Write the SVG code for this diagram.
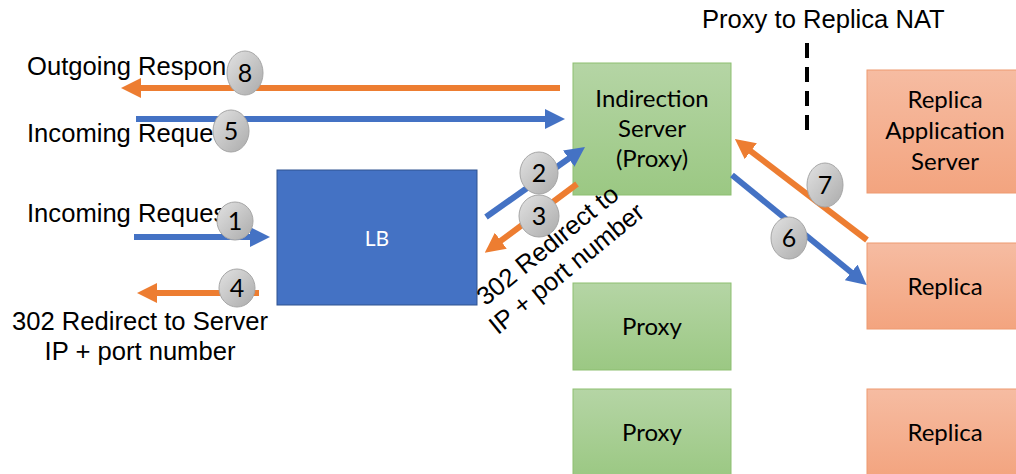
<svg xmlns="http://www.w3.org/2000/svg" width="1016" height="474" viewBox="0 0 1016 474">
  <defs>
    <linearGradient id="gGreen" x1="0" y1="0" x2="0" y2="1">
      <stop offset="0" stop-color="#B5D5A5"/>
      <stop offset="1" stop-color="#9BC883"/>
    </linearGradient>
    <linearGradient id="gOrange" x1="0" y1="0" x2="0" y2="1">
      <stop offset="0" stop-color="#F6BCA2"/>
      <stop offset="1" stop-color="#F3A47F"/>
    </linearGradient>
    <linearGradient id="gStep" x1="0" y1="0" x2="1" y2="1">
      <stop offset="0" stop-color="#E2E2E2"/>
      <stop offset="1" stop-color="#ABABAB"/>
    </linearGradient>
    <marker id="headBlue" viewBox="0 0 10 10" refX="0.5" refY="5" markerWidth="20" markerHeight="20" markerUnits="userSpaceOnUse" orient="auto">
      <path d="M0,0 L10,5 L0,10 z" fill="#4472C4"/>
    </marker>
    <marker id="headOrange" viewBox="0 0 10 10" refX="0.5" refY="5" markerWidth="20" markerHeight="20" markerUnits="userSpaceOnUse" orient="auto">
      <path d="M0,0 L10,5 L0,10 z" fill="#ED7D31"/>
    </marker>
  </defs>
  <style>
    .lbl { font-family: "Liberation Sans", Arial, sans-serif; font-size: 25.6px; fill: #000; }
    .box { font-family: Lato, "Liberation Sans", sans-serif; font-size: 24px; fill: #000; text-anchor: middle; }
    .green { fill: url(#gGreen); stroke: #8DBF70; stroke-width: 1; }
    .orange { fill: url(#gOrange); stroke: #EE9A70; stroke-width: 1; }
    .blue { stroke: #4472C4; stroke-width: 6; fill: none; marker-end: url(#headBlue); }
    .org { stroke: #ED7D31; stroke-width: 6; fill: none; marker-end: url(#headOrange); }
    .step ellipse { fill: url(#gStep); stroke: #A6A6A6; stroke-width: 1; }
    .step text { font-family: Lato, "Liberation Sans", sans-serif; font-size: 25px; fill: #000; text-anchor: middle; }
  </style>

  <rect width="1016" height="474" fill="#FFFFFF"/>

  <!-- free-standing labels -->
  <g id="labels">
    <text class="lbl" x="702" y="28">Proxy to Replica NAT</text>
    <text class="lbl" x="27" y="75">Outgoing Respon</text>
    <text class="lbl" x="27" y="142">Incoming Reque</text>
    <text class="lbl" x="27" y="222">Incoming Reques</text>
    <text class="lbl" x="140" y="330" text-anchor="middle">302 Redirect to Server</text>
    <text class="lbl" x="140" y="360" text-anchor="middle">IP + port number</text>
    <line x1="807" y1="43" x2="807" y2="137" stroke="#000" stroke-width="4" stroke-dasharray="15 9"/>
  </g>

  <!-- nodes -->
  <g id="lb">
    <rect x="277" y="170" width="200" height="135" fill="#4472C4" stroke="#2F528F" stroke-width="1"/>
    <text x="377" y="246" font-family="Lato, 'Liberation Sans', sans-serif" font-size="21" fill="#FFFFFF" text-anchor="middle">LB</text>
  </g>
  <g id="indirection-server">
    <rect class="green" x="573" y="63" width="158" height="132"/>
    <text class="box" x="652" y="107">Indirection</text>
    <text class="box" x="652" y="137">Server</text>
    <text class="box" x="652" y="167">(Proxy)</text>
  </g>
  <g id="proxy-2">
    <rect class="green" x="573" y="283" width="158" height="87"/>
    <text class="box" x="652" y="335">Proxy</text>
  </g>
  <g id="proxy-3">
    <rect class="green" x="573" y="389" width="158" height="88"/>
    <text class="box" x="652" y="441">Proxy</text>
  </g>
  <g id="replica-app-server">
    <rect class="orange" x="867" y="70" width="156" height="123"/>
    <text class="box" x="945" y="108">Replica</text>
    <text class="box" x="945" y="139">Application</text>
    <text class="box" x="945" y="170">Server</text>
  </g>
  <g id="replica-2">
    <rect class="orange" x="867" y="243" width="156" height="86"/>
    <text class="box" x="945" y="295">Replica</text>
  </g>
  <g id="replica-3">
    <rect class="orange" x="867" y="389" width="156" height="88"/>
    <text class="box" x="945" y="441">Replica</text>
  </g>

  <!-- slanted redirect label, laid over the proxy box -->
  <g id="redirect-label" transform="translate(553,252) rotate(-39)">
    <text class="lbl" x="0" y="0" text-anchor="middle">302 Redirect to</text>
    <text class="lbl" x="0" y="30" text-anchor="middle">IP + port number</text>
  </g>

  <!-- connectors -->
  <g id="connectors">
    <line class="org" x1="560" y1="88" x2="140" y2="88"/>
    <line class="blue" x1="136" y1="119" x2="546" y2="119"/>
    <line class="blue" x1="134" y1="237" x2="251" y2="237"/>
    <line class="org" x1="259" y1="293" x2="156" y2="293"/>
    <line class="blue" x1="486" y1="217" x2="569.5" y2="158"/>
    <line class="org" x1="577" y1="184" x2="500" y2="241.4"/>
    <line class="blue" x1="732" y1="175" x2="852" y2="273"/>
    <line class="org" x1="867" y1="240" x2="750" y2="150.6"/>
  </g>

  <!-- step markers -->
  <g id="steps" class="step">
    <g id="step-8"><ellipse cx="245" cy="73" rx="18" ry="22"/><text x="245" y="82">8</text></g>
    <g id="step-5"><ellipse cx="231" cy="131" rx="18" ry="21"/><text x="231" y="140">5</text></g>
    <g id="step-1"><ellipse cx="235" cy="221" rx="18" ry="19"/><text x="235" y="230">1</text></g>
    <g id="step-4"><ellipse cx="237" cy="288" rx="18" ry="19"/><text x="237" y="297">4</text></g>
    <g id="step-2"><ellipse cx="539" cy="173" rx="19" ry="21"/><text x="539" y="182">2</text></g>
    <g id="step-3"><ellipse cx="539" cy="216" rx="20" ry="21"/><text x="539" y="225">3</text></g>
    <g id="step-7"><ellipse cx="825" cy="185" rx="18" ry="22"/><text x="825" y="194">7</text></g>
    <g id="step-6"><ellipse cx="789" cy="238" rx="18" ry="21"/><text x="789" y="247">6</text></g>
  </g>
</svg>
